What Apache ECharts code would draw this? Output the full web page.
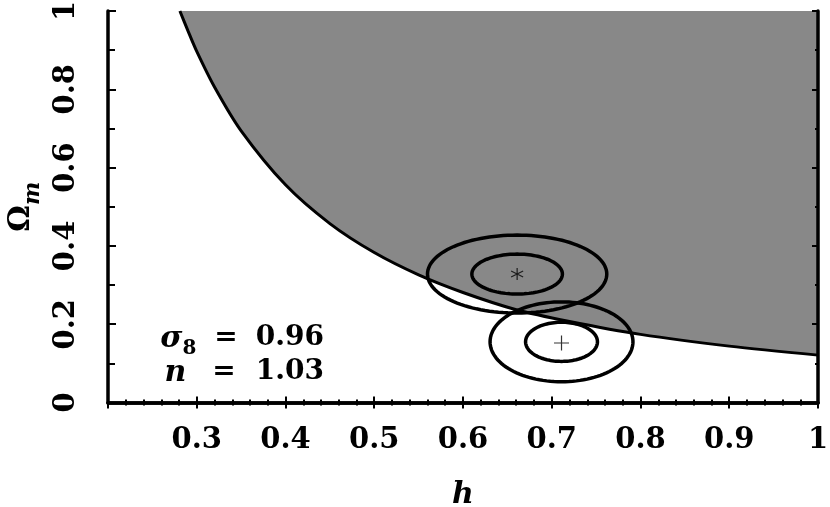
<!DOCTYPE html>
<html>
<head>
<meta charset="utf-8">
<script src="https://cdn.jsdelivr.net/npm/echarts@6/dist/echarts.min.js"></script>
<style>
html,body{margin:0;padding:0;background:#fff;}
#chart{width:830px;height:507px;}
</style>
</head>
<body>
<div id="chart"></div>
<script>
// Boundary curve of the shaded (excluded) region
const hCurve     = [0.281, 0.29, 0.30, 0.32, 0.35, 0.40, 0.45, 0.50, 0.55, 0.60, 0.66, 0.72, 0.80, 0.90, 1.0];
const omegaCurve = [1.0,   0.950, 0.897, 0.806, 0.694, 0.556, 0.457, 0.383, 0.326, 0.281, 0.237, 0.207, 0.174, 0.144, 0.121];

// Confidence ellipses: centre (h, Omega_m) and semi-axes
const ellipseH      = [0.661, 0.661, 0.711, 0.711];
const ellipseOmega  = [0.328, 0.328, 0.155, 0.155];
const ellipseRh     = [0.101, 0.051, 0.0805, 0.0405];
const ellipseRomega = [0.0996, 0.051, 0.102, 0.050];

// Best-fit markers
const starPoint = [0.661, 0.328];
const plusPoint = [0.711, 0.152];

// Axis ranges / ticks
const xMin = 0.2, xMax = 1.0, xStep = 0.1;
const yMin = 0, yMax = 1.0, yStep = 0.2;

// Annotation text
const sigmaLabel = '0.96';
const nLabel = '1.03';

const serif = '"DejaVu Serif", serif';
const chart = echarts.init(document.getElementById('chart'));

const curveData = hCurve.map((h, i) => [h, omegaCurve[i]]);
const ellipseData = ellipseH.map((h, i) => [h, ellipseOmega[i], ellipseRh[i], ellipseRomega[i]]);

const axisLine = {show: true, lineStyle: {color: '#000', width: 3.5}};

chart.setOption({
  animation: false,
  backgroundColor: '#fff',
  grid: {left: 108, right: 12, top: 11, bottom: 104.5, containLabel: false, outerBoundsMode: 'none'},
  xAxis: [{
    type: 'value', position: 'bottom', min: xMin, max: xMax, interval: xStep, z: 10,
    axisLine: axisLine,
    axisTick: {show: true, inside: true, length: 6, lineStyle: {color: '#000', width: 2}},
    minorTick: {show: true, splitNumber: 5, length: 3, lineStyle: {color: '#000', width: 2}},
    splitLine: {show: false},
    axisLabel: {
      margin: 23, color: '#000', fontFamily: serif, fontWeight: 'bold', fontSize: 29,
      formatter: v => (v < xMin + 0.05 ? '' : String(+v.toFixed(1)))
    },
    name: 'h', nameLocation: 'middle', nameGap: 78,
    nameTextStyle: {color: '#000', fontFamily: serif, fontStyle: 'italic', fontWeight: 'bold', fontSize: 30}
  }, {
    type: 'value', position: 'top', min: xMin, max: xMax, interval: xStep, z: 10,
    axisLine: axisLine,
    axisTick: {show: true, inside: true, length: 6, lineStyle: {color: '#000', width: 2}},
    minorTick: {show: true, splitNumber: 5, length: 3, lineStyle: {color: '#000', width: 2}},
    splitLine: {show: false}, axisLabel: {show: false}
  }],
  yAxis: [{
    type: 'value', position: 'left', min: yMin, max: yMax, interval: yStep, z: 10,
    axisLine: axisLine,
    axisTick: {show: true, inside: true, length: 8, lineStyle: {color: '#000', width: 2}},
    minorTick: {show: true, splitNumber: 2, length: 7, lineStyle: {color: '#000', width: 2}},
    splitLine: {show: false},
    axisLabel: {
      rotate: 90, margin: 27, color: '#000', fontFamily: serif, fontWeight: 'bold', fontSize: 29,
      formatter: v => String(+v.toFixed(1))
    },
    name: '{o|Ω}{m|m}', nameLocation: 'middle', nameGap: 72, nameRotate: 90,
    nameTextStyle: {
      color: '#000',
      rich: {
        o: {fontFamily: serif, fontWeight: 'bold', fontSize: 30, lineHeight: 30, verticalAlign: 'top', color: '#000'},
        m: {fontFamily: serif, fontStyle: 'italic', fontWeight: 'bold', fontSize: 22, lineHeight: 22, padding: [16, 0, 0, 0], verticalAlign: 'top', color: '#000'}
      }
    }
  }, {
    type: 'value', position: 'right', min: yMin, max: yMax, interval: yStep, z: 10,
    axisLine: axisLine,
    axisTick: {show: true, inside: true, length: 6, lineStyle: {color: '#000', width: 2}},
    minorTick: {show: true, splitNumber: 2, length: 3, lineStyle: {color: '#000', width: 2}},
    splitLine: {show: false}, axisLabel: {show: false}
  }],
  series: [{
    type: 'line', xAxisIndex: 0, yAxisIndex: 0,
    data: curveData, smooth: 0.3, symbol: 'none', z: 2,
    lineStyle: {color: '#000', width: 3},
    areaStyle: {color: '#888888', opacity: 1, origin: 'end'}
  }, {
    type: 'custom', xAxisIndex: 0, yAxisIndex: 0, z: 5,
    data: ellipseData,
    encode: {x: 0, y: 1},
    renderItem: function (params, api) {
      const c = api.coord([api.value(0), api.value(1)]);
      const s = api.size([api.value(2), api.value(3)], [api.value(0), api.value(1)]);
      const pts = [];
      const N = 120;
      for (let i = 0; i < N; i++) {
        const t = 2 * Math.PI * i / N;
        pts.push([c[0] + s[0] * Math.cos(t), c[1] + s[1] * Math.sin(t)]);
      }
      return {type: 'polygon', shape: {points: pts}, style: {fill: 'none', stroke: '#000', lineWidth: 3.5}};
    }
  }, {
    type: 'scatter', xAxisIndex: 0, yAxisIndex: 0, z: 6,
    data: [starPoint],
    symbol: 'path://M5,0L5,10M0.67,2.5L9.33,7.5M0.67,7.5L9.33,2.5',
    symbolSize: 12,
    itemStyle: {color: 'rgba(0,0,0,0)', borderColor: '#000', borderWidth: 1.2}
  }, {
    type: 'scatter', xAxisIndex: 0, yAxisIndex: 0, z: 6,
    data: [plusPoint],
    symbol: 'path://M5,0L5,10M0,5L10,5',
    symbolSize: 15,
    itemStyle: {color: 'rgba(0,0,0,0)', borderColor: '#000', borderWidth: 1.2}
  }],
  graphic: [{
    type: 'text', x: 324, y: 324, z: 20,
    style: {
      text: '{s|σ}{b|8}{e|=}{t|' + sigmaLabel + '}',
      align: 'right',
      rich: {
        s: {fontFamily: serif, fontStyle: 'italic', fontWeight: 'bold', fontSize: 30, lineHeight: 30, verticalAlign: 'top', fill: '#000'},
        b: {fontFamily: serif, fontWeight: 'bold', fontSize: 20, lineHeight: 20, padding: [15, 0, 0, 0], verticalAlign: 'top', fill: '#000'},
        e: {fontFamily: serif, fontWeight: 'bold', fontSize: 28, lineHeight: 30, padding: [0, 18, 0, 18], verticalAlign: 'top', fill: '#000'},
        t: {fontFamily: serif, fontWeight: 'bold', fontSize: 28, lineHeight: 30, verticalAlign: 'top', fill: '#000'}
      }
    }
  }, {
    type: 'text', x: 324, y: 358, z: 20,
    style: {
      text: '{s|n}{e|=}{t|' + nLabel + '}',
      align: 'right',
      rich: {
        s: {fontFamily: serif, fontStyle: 'italic', fontWeight: 'bold', fontSize: 30, lineHeight: 30, verticalAlign: 'top', fill: '#000'},
        e: {fontFamily: serif, fontWeight: 'bold', fontSize: 28, lineHeight: 30, padding: [0, 20, 0, 26], verticalAlign: 'top', fill: '#000'},
        t: {fontFamily: serif, fontWeight: 'bold', fontSize: 28, lineHeight: 30, verticalAlign: 'top', fill: '#000'}
      }
    }
  }]
});
</script>
</body>
</html>
